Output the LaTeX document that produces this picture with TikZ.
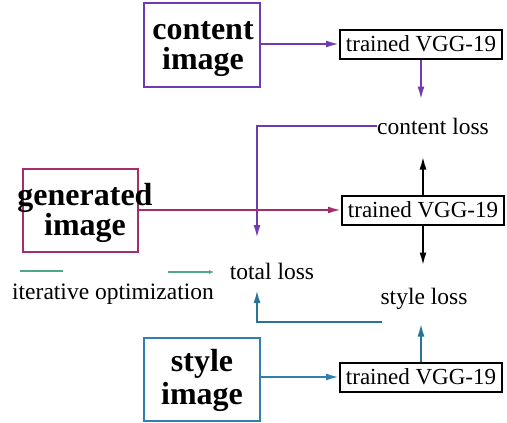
\documentclass[tikz,border=0pt]{standalone}
\usepackage{fontspec}
\setmainfont{Liberation Serif}
\usetikzlibrary{arrows.meta}
\tikzset{>={Latex[length=13pt,width=7pt]}}

\definecolor{contentc}{RGB}{112,58,178}
\definecolor{genc}{RGB}{165,45,110}
\definecolor{stylec}{RGB}{48,128,175}
\definecolor{lossc}{RGB}{40,115,150}
\definecolor{optcol}{RGB}{80,165,140}

\begin{document}
\begin{tikzpicture}[x=1pt,y=-1pt,
  imgbox/.style={draw,line width=2pt,minimum width=116pt,minimum height=84pt,inner sep=0pt},
  imgtext/.style={font=\fontsize{32}{30}\selectfont\bfseries,align=center,inner sep=0pt},
  vggbox/.style={draw,line width=2pt,minimum width=162pt,minimum height=29pt,inner sep=0pt,
    font=\fontsize{23}{25}\selectfont},
  plain/.style={font=\fontsize{23.5}{25}\selectfont,inner sep=0pt},
  link/.style={line width=2pt,->}]
  \useasboundingbox (0,0) rectangle (507,423);

  % Images
  \node[imgbox,draw=contentc] (cimg) at (202,45) {};
  \node[imgtext] at (203,49) {content\\image};
  \node[imgbox,draw=genc,minimum width=115pt,minimum height=83pt] (gimg) at (80,210) {};
  \node[imgtext] at (85,213) {generated\\image};
  \node[imgbox,draw=stylec,minimum height=83pt] (simg) at (202,379) {};
  \node[imgtext,font=\fontsize{32}{33}\selectfont\bfseries] at (202,380) {style\\image};

  % Networks
  \node[vggbox] (vgg1) at (421,44) {trained VGG-19};
  \node[vggbox] (vgg2) at (423,210) {trained VGG-19};
  \node[vggbox] (vgg3) at (421,377) {trained VGG-19};

  % Losses
  \node[plain] (closs) at (433,126) {content loss};
  \node[plain] (tloss) at (272,271) {total loss};
  \node[plain] (sloss) at (424,299) {style loss};
  \node[plain] (iter) at (113,294) {iterative optimization};
  \coordinate (tin) at (257,238);
  \coordinate (tup) at (257,290);
  \coordinate (sbend) at (382,322);
  \coordinate (opta) at (20,271);
  \coordinate (optb) at (63,271);
  \coordinate (optc) at (168,272);
  \coordinate (optd) at (214,272);

  % Content path
  \draw[link,contentc] (cimg.east |- vgg1) -- (vgg1.west);
  \draw[link,contentc] (vgg1.south) -- ++(0,40);
  \draw[link,contentc] (closs.west) -| (tin);

  % Generated path
  \draw[link,genc] (gimg.east |- vgg2) -- (vgg2.west);
  \draw[link,black] (vgg2.north) -- ++(0,-38);
  \draw[link,black] (vgg2.south) -- ++(0,40);

  % Style path
  \draw[link,stylec] (simg.east |- vgg3) -- (vgg3.west);
  \draw[link,lossc] (vgg3.north) -- ++(0,-38);
  \draw[link,lossc] (sbend) -| (tup);

  % Optimization
  \draw[line width=1.6pt,optcol] (opta) -- (optb);
  \draw[line width=1.6pt,optcol,-{Latex[length=5pt,width=4pt]}] (optc) -- (optd);
\end{tikzpicture}
\end{document}
